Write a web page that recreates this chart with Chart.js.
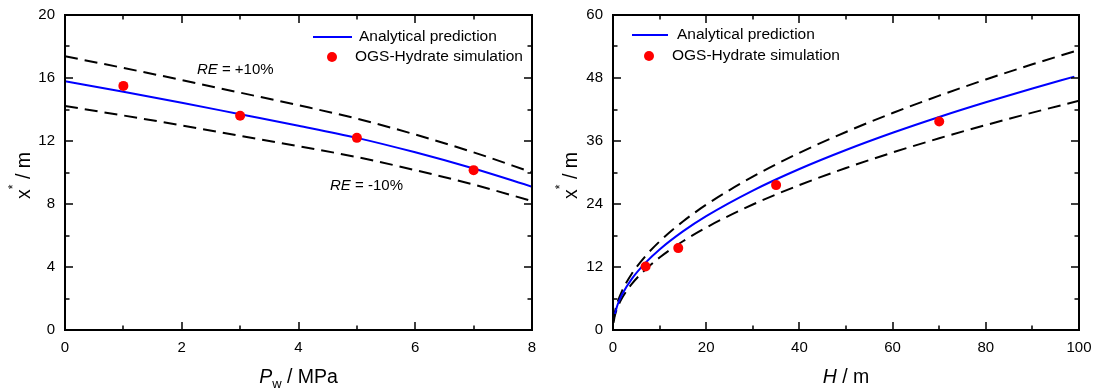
<!DOCTYPE html>
<html>
<head>
<meta charset="utf-8">
<script src="https://cdn.jsdelivr.net/npm/chart.js@4.4.0/dist/chart.umd.min.js"></script>
<style>
  body { margin: 0; background: #fff; }
  .wrap { display: flex; width: 1097px; height: 392px; }
  canvas { display: block; }
</style>
</head>
<body>
<div class="wrap">
  <canvas id="pressureChart" width="548" height="392"></canvas>
  <canvas id="heightChart" width="549" height="392"></canvas>
</div>
<script>
// --- left panel: x* vs well pressure Pw ---
const pwGrid = [0, 1, 2, 3, 4, 5, 6, 7, 8];
const pwAnalytical = [15.8, 15.13, 14.43, 13.7, 12.97, 12.2, 11.28, 10.25, 9.1];
const pwUpper = [17.38, 16.64, 15.87, 15.07, 14.27, 13.42, 12.41, 11.28, 10.01];
const pwLower = [14.22, 13.62, 12.99, 12.33, 11.67, 10.98, 10.15, 9.23, 8.19];
const pwSim = [1, 3, 5, 7];
const pwSimX = [15.5, 13.6, 12.2, 10.15];

// --- right panel: x* vs height H ---
const hGrid = [0.4, 1, 2, 4, 7, 10, 15, 20, 30, 40, 50, 60, 70, 80, 90, 99];
const hAnalytical = [3.07, 4.85, 6.86, 9.70, 12.83, 15.34, 18.78, 21.69, 26.56, 30.67, 34.29, 37.57, 40.58, 43.38, 46.01, 48.26];
const hBandGrid = [0.1, 0.4, 1, 2, 4, 7, 10, 15, 20, 30, 40, 50, 60, 70, 80, 90, 100];
const hUpper = [1.69, 3.38, 5.34, 7.55, 10.67, 14.11, 16.87, 20.66, 23.86, 29.22, 33.74, 37.72, 41.33, 44.64, 47.72, 50.61, 53.35];
const hLower = [1.38, 2.76, 4.37, 6.17, 8.73, 11.55, 13.81, 16.90, 19.52, 23.90, 27.60, 30.86, 33.81, 36.52, 39.04, 41.41, 43.65];
const hSim = [7, 14, 35, 70];
const hSimX = [12.1, 15.6, 27.6, 39.7];

const legendLabels = ['Analytical prediction', 'OGS-Hydrate simulation'];

const FONT = '"Liberation Sans", Arial, sans-serif';
const pts = (xs, ys) => xs.map((v, i) => ({ x: v, y: ys[i] }));

// draws a run of differently styled pieces of text, starting at x
function drawRuns(ctx, runs, x, y, align) {
  let total = 0;
  runs.forEach(r => { ctx.font = r.font; total += ctx.measureText(r.text).width; });
  let cx = align === 'center' ? x - total / 2 : x;
  ctx.textAlign = 'left';
  ctx.textBaseline = 'alphabetic';
  runs.forEach(r => {
    ctx.font = r.font;
    ctx.fillText(r.text, cx, y + (r.dy || 0));
    cx += ctx.measureText(r.text).width;
  });
}

const decorations = {
  id: 'decorations',
  afterDraw(chart, args, opts) {
    const { ctx, chartArea: a, scales: { x, y } } = chart;
    ctx.save();
    ctx.strokeStyle = '#000';
    ctx.fillStyle = '#000';

    // inward major/minor ticks on every side
    ctx.lineWidth = 1.5;
    const withMinor = scale => {
      const v = scale.ticks.map(t => t.value);
      const step = v[1] - v[0];
      const out = v.map(val => ({ val, len: 8 }));
      v.slice(0, -1).forEach(val => out.push({ val: val + step / 2, len: 4.5 }));
      return out;
    };
    ctx.beginPath();
    withMinor(x).forEach(t => {
      const px = Math.round(x.getPixelForValue(t.val));
      ctx.moveTo(px, a.bottom); ctx.lineTo(px, a.bottom - t.len);
      ctx.moveTo(px, a.top); ctx.lineTo(px, a.top + t.len);
    });
    withMinor(y).forEach(t => {
      const py = Math.round(y.getPixelForValue(t.val));
      ctx.moveTo(a.left, py); ctx.lineTo(a.left + t.len, py);
      ctx.moveTo(a.right, py); ctx.lineTo(a.right - t.len, py);
    });
    ctx.stroke();

    // frame
    ctx.lineWidth = 2;
    ctx.strokeRect(a.left, a.top, a.right - a.left, a.bottom - a.top);

    // axis titles
    drawRuns(ctx, opts.xTitle, (a.left + a.right) / 2, 383, 'center');
    ctx.save();
    ctx.translate(opts.yTitleX, (a.top + a.bottom) / 2 + 3);
    ctx.rotate(-Math.PI / 2);
    drawRuns(ctx, opts.yTitle, 0, 0, 'center');
    ctx.restore();

    // notes inside the plot
    (opts.notes || []).forEach(n => {
      drawRuns(ctx, n.runs, x.getPixelForValue(n.at[0]), y.getPixelForValue(n.at[1]), 'left');
    });

    // legend
    const L = opts.legend;
    ctx.font = '15.5px ' + FONT;
    ctx.textBaseline = 'middle';
    ctx.textAlign = 'left';
    ctx.strokeStyle = '#0000ff';
    ctx.lineWidth = 2;
    ctx.beginPath();
    ctx.moveTo(a.left + L.line[0], a.top + L.line[2]);
    ctx.lineTo(a.left + L.line[1], a.top + L.line[2]);
    ctx.stroke();
    ctx.fillStyle = '#000';
    ctx.fillText(legendLabels[0], a.left + L.line[3], a.top + L.line[2]);
    ctx.fillStyle = '#ff0000';
    ctx.beginPath();
    ctx.arc(a.left + L.dot[0], a.top + L.dot[1], 5, 0, Math.PI * 2);
    ctx.fill();
    ctx.fillStyle = '#000';
    ctx.fillText(legendLabels[1], a.left + L.dot[2], a.top + L.dot[1]);
    ctx.restore();
  }
};

function makeChart(id, cfg) {
  return new Chart(document.getElementById(id), {
    type: 'scatter',
    data: {
      datasets: [
        {
          data: pts(cfg.simX, cfg.simY),
          pointRadius: 5,
          pointHoverRadius: 5,
          backgroundColor: '#ff0000',
          borderWidth: 0,
          order: 0
        },
        {
          data: pts(cfg.grid, cfg.analytical),
          showLine: true,
          pointRadius: 0,
          borderColor: '#0000ff',
          borderWidth: 2,
          cubicInterpolationMode: 'monotone',
          order: 1
        },
        {
          data: pts(cfg.bandGrid, cfg.upper),
          showLine: true,
          pointRadius: 0,
          borderColor: '#000',
          borderWidth: 2,
          borderDash: [13, 7],
          cubicInterpolationMode: 'monotone',
          order: 2
        },
        {
          data: pts(cfg.bandGrid, cfg.lower),
          showLine: true,
          pointRadius: 0,
          borderColor: '#000',
          borderWidth: 2,
          borderDash: [13, 7],
          cubicInterpolationMode: 'monotone',
          order: 2
        }
      ]
    },
    options: {
      responsive: false,
      animation: false,
      layout: { padding: { left: 0, top: 15, right: cfg.padRight, bottom: 0 } },
      plugins: {
        legend: { display: false },
        tooltip: { enabled: false },
        decorations: cfg.deco
      },
      scales: {
        x: {
          type: 'linear',
          min: 0,
          max: cfg.xMax,
          grid: { display: false, drawTicks: false },
          border: { display: false },
          ticks: { stepSize: cfg.xStep, padding: 9, color: '#000', font: { family: FONT, size: 15 }, maxRotation: 0 },
          // let layout.padding alone decide the plot edges
          afterFit: s => { s.height = 62; s.paddingLeft = 0; s.paddingRight = 0; }
        },
        y: {
          min: 0,
          max: cfg.yMax,
          grid: { display: false, drawTicks: false },
          border: { display: false },
          ticks: { stepSize: cfg.yStep, padding: 10, color: '#000', font: { family: FONT, size: 15 } },
          afterFit: s => { s.width = 65; s.paddingTop = 0; s.paddingBottom = 0; }
        }
      }
    },
    plugins: [decorations]
  });
}

const titleFont = '19.5px ' + FONT;
const yTitleRuns = [
  { text: 'x', font: titleFont },
  { text: '*', font: '12px ' + FONT, dy: -13 },
  { text: ' / m', font: titleFont }
];

makeChart('pressureChart', {
  grid: pwGrid, analytical: pwAnalytical,
  bandGrid: pwGrid, upper: pwUpper, lower: pwLower,
  simX: pwSim, simY: pwSimX,
  xMax: 8, xStep: 2, yMax: 20, yStep: 4, padRight: 16,
  deco: {
    xTitle: [
      { text: 'P', font: 'italic ' + titleFont },
      { text: 'w', font: '13px ' + FONT, dy: 5 },
      { text: ' / MPa', font: titleFont }
    ],
    yTitle: yTitleRuns,
    yTitleX: 30,
    notes: [
      { at: [2.26, 16.25], runs: [{ text: 'RE', font: 'italic 15px ' + FONT }, { text: ' = +10%', font: '15px ' + FONT }] },
      { at: [4.54, 8.89], runs: [{ text: 'RE', font: 'italic 15px ' + FONT }, { text: ' = -10%', font: '15px ' + FONT }] }
    ],
    legend: { line: [248, 287, 22, 294], dot: [267, 42, 290] }
  }
});

makeChart('heightChart', {
  grid: hGrid, analytical: hAnalytical,
  bandGrid: hBandGrid, upper: hUpper, lower: hLower,
  simX: hSim, simY: hSimX,
  xMax: 100, xStep: 20, yMax: 60, yStep: 12, padRight: 18,
  deco: {
    xTitle: [
      { text: 'H', font: 'italic ' + titleFont },
      { text: ' / m', font: titleFont }
    ],
    yTitle: yTitleRuns,
    yTitleX: 29,
    legend: { line: [19, 55, 20, 64], dot: [36, 41, 59] }
  }
});
</script>
</body>
</html>
